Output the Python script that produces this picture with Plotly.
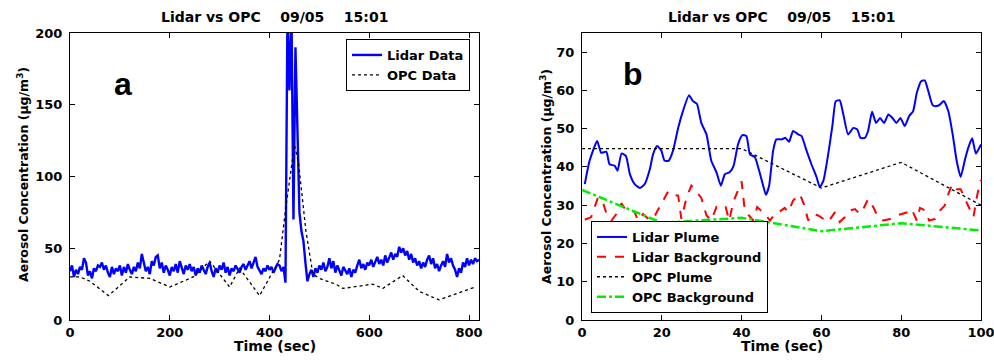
import plotly.graph_objects as go

# ---------------- Panel a data ----------------
lidar_a_time = list(range(0, 821, 4))
lidar_a_vals = [
    34, 38, 30, 35, 32, 37, 35, 43, 40, 31,
    34, 29, 36, 34, 38, 37, 40, 35, 38, 33,
    30, 37, 32, 36, 34, 38, 31, 37, 33, 39,
    35, 32, 37, 34, 40, 36, 46, 39, 34, 37,
    32, 41, 38, 44, 45, 36, 40, 33, 38, 35,
    31, 37, 34, 39, 33, 41, 36, 32, 38, 35,
    39, 34, 37, 31, 36, 33, 38, 35, 32, 37,
    40, 34, 30, 36, 33, 38, 35, 40, 33, 37,
    31, 36, 34, 38, 35, 33, 37, 39, 35, 38,
    41, 36, 40, 44, 37, 34, 32, 36, 34, 38,
    35, 37, 33, 36, 39, 38, 34, 37, 26, 215,
    160, 215, 70, 190, 120, 75, 62, 55, 40, 27,
    32, 35, 30, 36, 33, 38, 35, 40, 34, 37,
    43, 36, 41, 33, 38, 35, 31, 37, 34, 32,
    36, 30, 35, 33, 38, 42, 36, 39, 35, 40,
    38, 42, 37, 40, 44, 39, 42, 38, 45, 40,
    43, 47, 42, 46, 44, 51, 47, 50, 45, 48,
    42, 46, 40, 43, 38, 41, 36, 40, 37, 42,
    45, 39, 43, 36, 39, 34, 38, 41, 37, 46,
    40, 43, 38, 35, 30, 36, 33, 40, 37, 43,
    38, 42, 39, 43, 41, 42,
]
opc_a_time = [0, 20, 40, 77, 120, 160, 200, 247, 280, 320, 340, 380, 420,
              433, 450, 458, 473, 487, 500, 533, 547, 607, 627, 667, 700, 740, 813]
opc_a_vals = [30, 30, 27, 17, 30, 29, 23, 30, 41, 23, 36, 17, 42,
              79, 122, 110, 62, 32, 29, 25, 22, 25, 22, 31, 20, 14, 23]

# ---------------- Panel b data ----------------
lidar_b_time = [0.7, 1.9, 3.8, 4.8, 6.1, 6.9, 8.2, 8.9, 9.9, 11, 12, 13.2, 14.5, 15.7,
                17, 17.8, 18.8, 19.9, 20.7, 21.7, 22.8, 24.1, 25.3, 26.8, 27.8, 28.8,
                29.9, 31.2, 32.4, 33.7, 34.8, 35.8, 37, 38, 39.1, 40.2, 41.2, 42.1,
                43.3, 44.4, 45.4, 46.1, 46.9, 47.9, 48.7, 50, 51, 51.9, 52.9, 54.2,
                55, 56.3, 57.5, 58.8, 59.6, 60.5, 61.7, 62.8, 63.6, 64.6, 65.5, 66.7,
                68, 69, 69.8, 70.9, 71.7, 72.7, 73.7, 74.7, 75.7, 76.8, 77.8, 78.8,
                79.8, 80.9, 82, 83, 83.9, 85, 85.9, 86.8, 87.9, 88.9, 89.7, 90.7,
                91.8, 92.9, 93.9, 94.9, 96, 96.8, 97.8, 98.7, 100]
lidar_b_vals = [35.5, 41.6, 46.8, 43.7, 44, 40.7, 40.3, 39, 43.5, 42.9, 38.1, 35.5, 34.5, 35.5,
                39.4, 43.3, 45.5, 44.2, 41.6, 41.6, 44.2, 50.2, 54.6, 58.7, 57.2, 56.5,
                51.5, 48.5, 41.6, 38.6, 35.1, 38.1, 38.6, 40.3, 45.9, 48.3, 48.1, 43.3,
                42.6, 39, 35.1, 32.7, 35.1, 44.2, 47.2, 47.2, 47.6, 46.6, 49.4, 48.5,
                48.1, 44.2, 40.7, 37.3, 34.7, 36.4, 43.3, 51.1, 57.2, 57.4, 53.7, 48.5,
                50.2, 49.8, 47.6, 47.6, 49.4, 54.4, 51.5, 52.8, 51.5, 53.7, 52.8, 51.5,
                52.8, 50.7, 53.3, 54.6, 59.3, 62.4, 62.6, 59.8, 56.1, 55.9, 56.3, 57.2,
                54.6, 48.5, 41.6, 37.4, 42, 45, 47.5, 43.5, 45.9]

lidar_bg_time = [0.7, 2.3, 4, 5.3, 6.3, 7.4, 8.6, 9.9, 11, 12, 13.2, 14, 15.3, 16.6, 17.8,
                 19.5, 21.6, 22.8, 24.1, 24.9, 26.2, 27.4, 28.7, 29.9, 31.2, 32.4, 33.7,
                 35, 36, 36.9, 37.9, 39.1, 40, 40.8, 42.1, 42.9, 43.9, 45, 45.8, 47.1,
                 48.3, 49.6, 50.8, 51.7, 52.9, 54.6, 55.6, 56.7, 57.9, 59.2, 60.5, 61.7,
                 63.4, 64.6, 65.9, 67.1, 68.4, 69.6, 70.5, 71.7, 73, 74.2, 75.5, 77.2,
                 78.8, 80.5, 81.8, 82.6, 83.9, 84.7, 86, 87, 88.5, 89.7, 90.9, 91.8,
                 92.8, 93.9, 94.9, 96, 97.3, 98.1, 99.1, 100]
lidar_bg_vals = [26.2, 26.9, 32, 30.5, 27.3, 26, 27.7, 30.5, 28.6, 28.8, 28.2, 26, 27.7, 26.4, 26.4,
                 29.5, 33.6, 32.7, 32.5, 26.4, 32, 35.1, 33.4, 31.9, 27.3, 26, 29.5,
                 29, 29.5, 26, 30.8, 34.2, 36.2, 28.6, 26.9, 26, 29.5, 28.6, 27.7, 26,
                 27.7, 28.4, 29.3, 28.2, 31.2, 32.9, 30.3, 26, 27.7, 27.3, 26.4, 25.6,
                 28.2, 25.6, 26.9, 28.6, 29, 27.7, 29, 31.6, 29.5, 26.9, 26, 26.4,
                 27.3, 27.7, 28.2, 29, 26, 29.3, 28.6, 26, 26.4, 28.6, 29.9, 32.9,
                 35.5, 34.2, 34.2, 31.6, 28.6, 26.9, 32.9, 36.6]

opc_b_time = [0, 20, 40, 60, 80, 100]
opc_plume_vals = [44.8, 44.8, 44.8, 34.5, 41.2, 30.0]
opc_bg_vals = [34.0, 25.4, 26.7, 23.2, 25.3, 23.4]

TITLE = "Lidar vs OPC    09/05    15:01"
YTITLE = "Aerosol Concentration (\u03bcg/m<sup>3</sup>)"
XTITLE = "Time (sec)"
FONT = "DejaVu Sans"
W, H = 994, 360

fig = go.Figure()

fig.add_trace(go.Scatter(x=lidar_a_time, y=lidar_a_vals, mode="lines", name="Lidar Data",
                         line=dict(color="#0000ff", width=2.4), xaxis="x", yaxis="y", legend="legend"))
fig.add_trace(go.Scatter(x=opc_a_time, y=opc_a_vals, mode="lines", name="OPC Data",
                         line=dict(color="black", width=1.3, dash="dot"), xaxis="x", yaxis="y", legend="legend"))

fig.add_trace(go.Scatter(x=lidar_b_time, y=lidar_b_vals, mode="lines", name="Lidar Plume",
                         line=dict(color="#0000ff", width=2, shape="spline", smoothing=0.5),
                         xaxis="x2", yaxis="y2", legend="legend2"))
fig.add_trace(go.Scatter(x=lidar_bg_time, y=lidar_bg_vals, mode="lines", name="Lidar Background",
                         line=dict(color="#ff0000", width=2, dash="dash"),
                         xaxis="x2", yaxis="y2", legend="legend2"))
fig.add_trace(go.Scatter(x=opc_b_time, y=opc_plume_vals, mode="lines", name="OPC Plume",
                         line=dict(color="black", width=1.3, dash="dot"),
                         xaxis="x2", yaxis="y2", legend="legend2"))
fig.add_trace(go.Scatter(x=opc_b_time, y=opc_bg_vals, mode="lines", name="OPC Background",
                         line=dict(color="#00ee00", width=2.5, dash="dashdot"),
                         xaxis="x2", yaxis="y2", legend="legend2"))

tickfont = dict(family=FONT, size=13, color="black", weight="bold")
axis_common = dict(showline=True, linecolor="black", linewidth=1, mirror="ticks",
                   ticks="inside", ticklen=5, tickcolor="black", showgrid=False,
                   zeroline=False, tickfont=tickfont, automargin=False,
                   ticklabeloverflow="allow")

ytop = 1 - 33 / H
ybot = 1 - 320 / H
legfont = dict(family=FONT, size=13, color="black", weight="bold")
fig.update_layout(
    width=W, height=H, margin=dict(l=0, r=0, t=0, b=0),
    paper_bgcolor="white", plot_bgcolor="white",
    font=dict(family=FONT, color="black"),
    xaxis=dict(domain=[70 / W, 479 / W], range=[0, 820], tickvals=[0, 200, 400, 600, 800],
               anchor="y", **axis_common),
    yaxis=dict(domain=[ybot, ytop], range=[0, 200], tickvals=[0, 50, 100, 150, 200],
               anchor="x", ticklabelstandoff=4, **axis_common),
    xaxis2=dict(domain=[582 / W, 981 / W], range=[0, 100], tickvals=[0, 20, 40, 60, 80, 100],
                anchor="y2", **axis_common),
    yaxis2=dict(domain=[ybot, ytop], range=[0, 75], tickvals=[0, 10, 20, 30, 40, 50, 60, 70],
                anchor="x2", ticklabelstandoff=4, **axis_common),
    legend=dict(x=470 / W, xanchor="right", y=1 - 39 / H, yanchor="top",
                bordercolor="black", borderwidth=1, bgcolor="white",
                font=legfont, tracegroupgap=0, itemwidth=30),
    legend2=dict(x=591 / W, xanchor="left", y=1 - 313 / H, yanchor="bottom",
                 bordercolor="black", borderwidth=1, bgcolor="white",
                 font=legfont, tracegroupgap=0, itemwidth=30),
)

ann_font = dict(family=FONT, size=14, color="black", weight="bold")
ytitle_font = dict(family=FONT, size=12.5, color="black", weight="bold")
annotations = [
    dict(text=TITLE, x=274.5 / W, y=1 - 17 / H, xref="paper", yref="paper",
         showarrow=False, font=ann_font, xanchor="center", yanchor="middle"),
    dict(text=TITLE, x=781.5 / W, y=1 - 17 / H, xref="paper", yref="paper",
         showarrow=False, font=ann_font, xanchor="center", yanchor="middle"),
    dict(text=XTITLE, x=274.5 / W, y=1 - 346 / H, xref="paper", yref="paper",
         showarrow=False, font=ann_font, xanchor="center", yanchor="middle"),
    dict(text=XTITLE, x=781.5 / W, y=1 - 346 / H, xref="paper", yref="paper",
         showarrow=False, font=ann_font, xanchor="center", yanchor="middle"),
    dict(text=YTITLE, x=23 / W, y=1 - 175 / H, xref="paper", yref="paper", textangle=-90,
         showarrow=False, font=ytitle_font, xanchor="center", yanchor="middle"),
    dict(text=YTITLE, x=546 / W, y=1 - 177 / H, xref="paper", yref="paper", textangle=-90,
         showarrow=False, font=ytitle_font, xanchor="center", yanchor="middle"),
    dict(text="a", x=123 / W, y=1 - 84 / H, xref="paper", yref="paper",
         showarrow=False, font=dict(family="Liberation Sans", size=32, color="black", weight="bold"),
         xanchor="center", yanchor="middle"),
    dict(text="b", x=633 / W, y=1 - 74 / H, xref="paper", yref="paper",
         showarrow=False, font=dict(family="Liberation Sans", size=32, color="black", weight="bold"),
         xanchor="center", yanchor="middle"),
]
fig.update_layout(annotations=annotations)

fig.write_html("out.html")
